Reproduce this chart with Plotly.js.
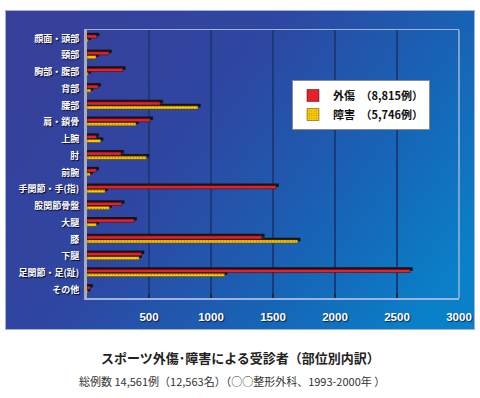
<!DOCTYPE html>
<html>
<head>
<meta charset="utf-8">
<script src="https://cdn.plot.ly/plotly-3.0.1.min.js"></script>
<style>html,body{margin:0;padding:0;background:#fff;}#chart{width:480px;height:398px;}</style>
</head>
<body>
<div id="chart"></div>
<script>
// ---- data ----
const categories = ["顔面・頭部","頸部","胸部・腹部","背部","腰部","肩・鎖骨","上腕","肘","前腕","手関節・手(指)","股関節骨盤","大腿","膝","下腿","足関節・足(趾)","その他"];
const gaisho = [78,177,290,90,590,510,75,275,75,1525,280,380,1410,440,2605,25];
const shogai = [10,73,10,30,895,395,110,480,25,145,180,75,1700,420,1110,5];
const seriesNames = ["外傷　（8,815例）","障害　（5,746例）"];
const xTickVals = [500,1000,1500,2000,2500,3000];
const xTickText = ["500","1000","1500","2000","2500","3000"];

const shadowDx = 22;
const shade = arr => arr.map(v => v + shadowDx);

const traces = [
  {type:'bar', orientation:'h', y:categories, x:shade(gaisho), offset:-0.33, width:0.2,
   marker:{color:'#141414'}, showlegend:false, hoverinfo:'skip'},
  {type:'bar', orientation:'h', y:categories, x:shade(shogai), offset:-0.09, width:0.2,
   marker:{color:'#141414'}, showlegend:false, hoverinfo:'skip'},
  {type:'bar', orientation:'h', y:categories, x:gaisho, offset:-0.21, width:0.19, name:seriesNames[0],
   marker:{color:'#e8202c', line:{color:'#2a0a0a', width:0.5}}},
  {type:'bar', orientation:'h', y:categories, x:shogai, offset:0.03, width:0.19, name:seriesNames[1],
   marker:{color:'#f8cc00', line:{color:'#5a4000', width:0.5},
           pattern:{shape:'.', fgcolor:'#c88400', bgcolor:'#f8cc00', size:3, solidity:0.2}}}
];

const svg = "<svg xmlns='http://www.w3.org/2000/svg' width='470' height='320' viewBox='0 0 470 320' preserveAspectRatio='none'>" +
  "<defs><linearGradient id='g' x1='0' y1='0.25' x2='1' y2='0.75'>" +
  "<stop offset='0' stop-color='#37409a'/><stop offset='0.38' stop-color='#2e47a2'/>" +
  "<stop offset='0.72' stop-color='#1764b6'/><stop offset='1' stop-color='#0a80c8'/></linearGradient></defs>" +
  "<rect x='0.5' y='0.5' width='469' height='319' fill='url(#g)' stroke='#9cb3dc' stroke-width='1'/></svg>";
const bgUri = 'data:image/svg+xml;charset=utf-8,' + encodeURIComponent(svg);

// plot area: left 87, right 459, top 30, bottom 298
const L = 87, R = 459, T = 30, B = 298;
const px = x => (x - L) / (R - L);
const py = y => (B - y) / (B - T);

const layout = {
  width:480, height:398,
  margin:{l:L, r:480-R, t:T, b:398-B},
  paper_bgcolor:'#ffffff', plot_bgcolor:'rgba(0,0,0,0)',
  barmode:'overlay',
  showlegend:true,
  font:{family:'"Noto Sans CJK JP", "Liberation Sans", sans-serif'},
  xaxis:{range:[0,3000], tickvals:xTickVals, ticktext:xTickText,
    showgrid:true, gridcolor:'#1d3a78', gridwidth:1.5,
    zeroline:false, showline:true, mirror:true, linecolor:'#9fb4da', linewidth:1.5,
    ticks:'inside', ticklen:4, tickwidth:1.5, tickcolor:'#1a2748',
    ticklabelstandoff:8,
    tickfont:{family:'"Liberation Sans", Arial, sans-serif', size:11.5, color:'#ffffff', weight:'bold',
              shadow:'1px 1px 1px rgba(0,0,40,0.7)'}},
  yaxis:{type:'category', autorange:'reversed', showgrid:false, zeroline:false,
    showline:true, linecolor:'#a9acb6', linewidth:3, ticks:'', ticklabelstandoff:3,
    tickfont:{family:'"Noto Sans CJK JP", sans-serif', size:9, color:'#ffffff', weight:'bold',
              shadow:'1px 1px 1px rgba(0,0,30,0.9)'}},
  legend:{x:px(292), y:py(80), xanchor:'left', yanchor:'top',
    bgcolor:'#ffffff', bordercolor:'#8a8a8a', borderwidth:1,
    font:{family:'"Noto Sans CJK JP", sans-serif', size:11, color:'#111', weight:'bold'},
    tracegroupgap:0, itemwidth:30},
  images:[{source:bgUri, xref:'paper', yref:'paper', x:px(5), y:py(10), sizex:(475-5)/(R-L), sizey:(330-10)/(B-T),
    xanchor:'left', yanchor:'top', sizing:'stretch', layer:'below'}],
  shapes:[{type:'line', xref:'paper', yref:'paper', x0:1, x1:1, y0:0, y1:1, line:{color:'#9fb4da', width:1.5}}],
  annotations:[
    {xref:'paper', yref:'paper', x:px(240), y:py(357), xanchor:'center', yanchor:'middle', showarrow:false,
     text:'スポーツ外傷･障害による受診者（部位別内訳）',
     font:{family:'"Noto Sans CJK JP", sans-serif', size:13, color:'#222', weight:'bold'}},
    {xref:'paper', yref:'paper', x:px(232), y:py(381), xanchor:'center', yanchor:'middle', showarrow:false,
     text:'総例数 14,561例（12,563名）（○○整形外科、1993-2000年 ）',
     font:{family:'"Noto Sans CJK JP", sans-serif', size:11, color:'#333'}}
  ]
};

Plotly.newPlot('chart', traces, layout, {staticPlot:true, displayModeBar:false});
</script>
</body>
</html>
